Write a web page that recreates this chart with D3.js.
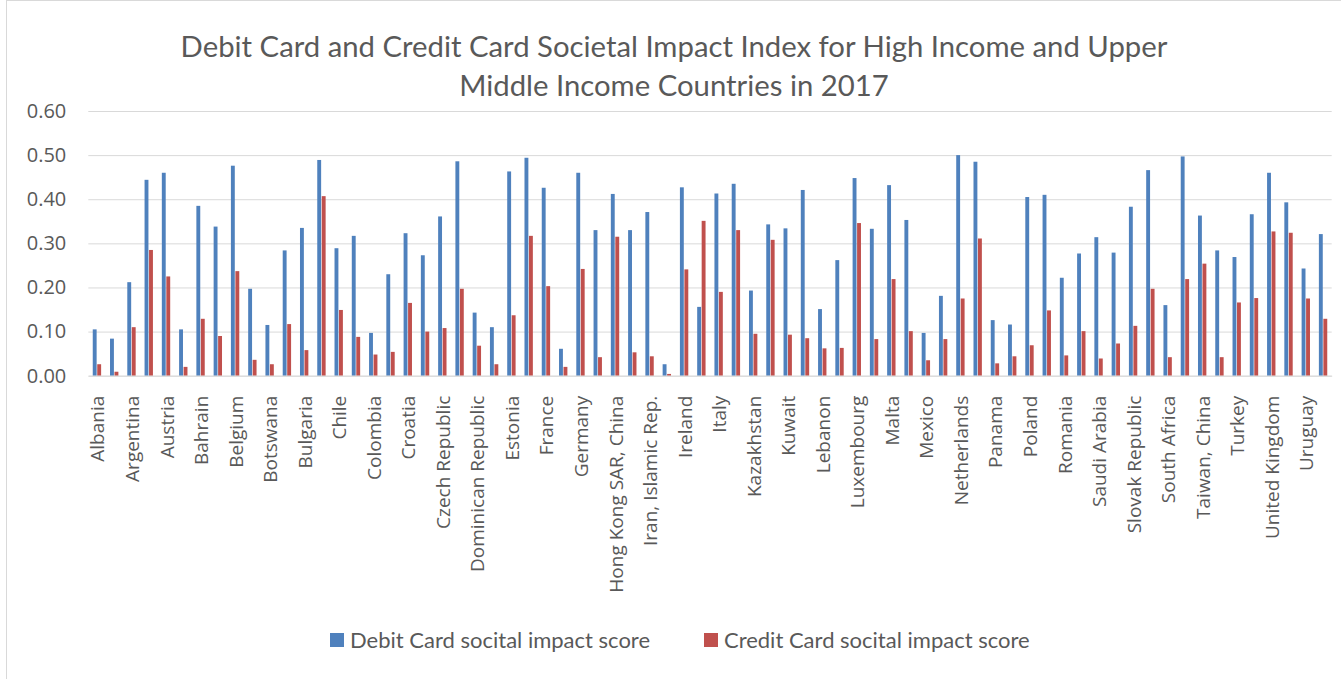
<!DOCTYPE html>
<html>
<head>
<meta charset="utf-8">
<script src="https://cdn.jsdelivr.net/npm/d3@7"></script>
<style>
  body { margin: 0; background: #fff; }
  svg { display: block; }
</style>
</head>
<body>
<svg id="chart" width="1341" height="679"></svg>
<script>
// categories (only every other one gets a label on the axis)
const countries = [
  "Albania", "Algeria", "Argentina", "Australia", "Austria", "Azerbaijan",
  "Bahrain", "Belarus", "Belgium", "Bosnia and Herzegovina", "Botswana", "Brazil",
  "Bulgaria", "Canada", "Chile", "China", "Colombia", "Costa Rica",
  "Croatia", "Cyprus", "Czech Republic", "Denmark", "Dominican Republic", "Ecuador",
  "Estonia", "Finland", "France", "Gabon", "Germany", "Greece",
  "Hong Kong SAR, China", "Hungary", "Iran, Islamic Rep.", "Iraq", "Ireland", "Israel",
  "Italy", "Japan", "Kazakhstan", "Korea, Rep.", "Kuwait", "Latvia",
  "Lebanon", "Lithuania", "Luxembourg", "Malaysia", "Malta", "Mauritius",
  "Mexico", "Montenegro", "Netherlands", "New Zealand", "Panama", "Peru",
  "Poland", "Portugal", "Romania", "Russian Federation", "Saudi Arabia", "Singapore",
  "Slovak Republic", "Slovenia", "South Africa", "Spain", "Taiwan, China", "Thailand",
  "Turkey", "United Arab Emirates", "United Kingdom", "United States", "Uruguay", "Venezuela, RB"
];

const debitScores = [
  0.105, 0.084, 0.212, 0.444, 0.460, 0.105,
  0.385, 0.338, 0.476, 0.197, 0.115, 0.284,
  0.335, 0.489, 0.289, 0.317, 0.097, 0.230,
  0.323, 0.273, 0.361, 0.486, 0.143, 0.110,
  0.463, 0.494, 0.426, 0.061, 0.460, 0.330,
  0.412, 0.330, 0.371, 0.026, 0.427, 0.156,
  0.413, 0.435, 0.193, 0.343, 0.334, 0.421,
  0.151, 0.262, 0.448, 0.333, 0.432, 0.353,
  0.097, 0.181, 0.500, 0.485, 0.126, 0.116,
  0.405, 0.410, 0.222, 0.277, 0.314, 0.279,
  0.383, 0.466, 0.160, 0.497, 0.363, 0.284,
  0.269, 0.366, 0.460, 0.393, 0.243, 0.321
];

const creditScores = [
  0.026, 0.009, 0.110, 0.285, 0.225, 0.020,
  0.129, 0.090, 0.237, 0.036, 0.026, 0.117,
  0.058, 0.407, 0.149, 0.088, 0.048, 0.054,
  0.165, 0.100, 0.108, 0.197, 0.068, 0.026,
  0.137, 0.317, 0.203, 0.020, 0.242, 0.042,
  0.315, 0.053, 0.044, 0.004, 0.241, 0.351,
  0.190, 0.330, 0.095, 0.308, 0.093, 0.085,
  0.062, 0.063, 0.346, 0.083, 0.219, 0.101,
  0.035, 0.083, 0.175, 0.311, 0.028, 0.044,
  0.069, 0.148, 0.046, 0.101, 0.039, 0.073,
  0.113, 0.197, 0.042, 0.219, 0.254, 0.042,
  0.166, 0.176, 0.327, 0.324, 0.175, 0.129
];

const seriesNames = ["Debit Card socital impact score", "Credit Card socital impact score"];
const seriesColors = ["#4f81bd", "#c0504d"];
const yTicks = [0, 0.1, 0.2, 0.3, 0.4, 0.5, 0.6];
const titleLines = [
  "Debit Card and Credit Card Societal Impact Index for High Income and Upper",
  "Middle Income Countries in 2017"
];

// build rows for the grouped bars
const rows = countries.map((c, i) => ({country: c, values: [debitScores[i], creditScores[i]]}));

const svg = d3.select("#chart");
const textColor = "#595959";
const gridColor = "#d9d9d9";

// chart frame
svg.append("rect")
  .attr("x", 6.5).attr("y", 0.5)
  .attr("width", 1345).attr("height", 700)
  .attr("fill", "#fff")
  .attr("stroke", gridColor);

const plot = {left: 88.3, right: 1331.7, top: 111, bottom: 375.7};

const x0 = d3.scaleBand()
  .domain(countries)
  .range([plot.left, plot.right]);

const barW = x0.bandwidth() / 3.85;
const x1 = d3.scaleBand()
  .domain([0, 1])
  .range([0, barW * 2]);

const y = d3.scaleLinear()
  .domain([0, 0.6])
  .range([plot.bottom, plot.top]);

// y axis + gridlines
const yAxis = svg.append("g")
  .attr("transform", `translate(${plot.left},0)`)
  .call(d3.axisLeft(y)
    .tickValues(yTicks)
    .tickFormat(d3.format(".2f"))
    .tickSize(-(plot.right - plot.left))
    .tickPadding(22));

yAxis.select(".domain").remove();
yAxis.selectAll("line").attr("stroke", gridColor).attr("stroke-width", 1);
yAxis.selectAll("text")
  .attr("fill", textColor)
  .attr("font-family", "'Open Sans', sans-serif")
  .attr("font-size", "20px");

// bars
const groups = svg.append("g")
  .selectAll("g.group")
  .data(rows)
  .join("g")
  .attr("class", "group")
  .attr("transform", d => `translate(${x0(d.country) + (x0.bandwidth() - barW * 2) / 2},0)`);

groups.selectAll("rect")
  .data(d => d.values)
  .join("rect")
  .attr("x", (d, i) => x1(i) + 0.3)
  .attr("width", x1.bandwidth() - 0.6)
  .attr("y", d => y(d))
  .attr("height", d => y(0) - y(d))
  .attr("fill", (d, i) => seriesColors[i]);

// x axis labels, every second country
const xAxis = svg.append("g")
  .attr("transform", `translate(0,${plot.bottom})`)
  .call(d3.axisBottom(x0)
    .tickSize(0)
    .tickFormat((d, i) => i % 2 === 0 ? d : ""));

xAxis.select(".domain").attr("stroke", gridColor);
xAxis.selectAll("text")
  .attr("transform", "rotate(-90)")
  .attr("text-anchor", "end")
  .attr("x", -20)
  .attr("y", 7.5)
  .attr("dy", 0)
  .attr("fill", textColor)
  .attr("font-family", "'Open Sans', sans-serif")
  .attr("font-size", "19px");

// title
svg.append("g")
  .selectAll("text")
  .data(titleLines)
  .join("text")
  .attr("x", 674)
  .attr("y", (d, i) => 57 + i * 39)
  .attr("text-anchor", "middle")
  .attr("fill", textColor)
  .attr("font-family", "Lato, sans-serif")
  .attr("font-size", "29.3px")
  .text(d => d);

// legend
const legendX = [330, 704];
const legend = svg.append("g")
  .selectAll("g")
  .data(seriesNames)
  .join("g")
  .attr("transform", (d, i) => `translate(${legendX[i]},633)`);

legend.append("rect")
  .attr("width", 14).attr("height", 14)
  .attr("fill", (d, i) => seriesColors[i]);

legend.append("text")
  .attr("x", 20)
  .attr("y", 14.5)
  .attr("fill", textColor)
  .attr("font-family", "Lato, sans-serif")
  .attr("font-size", "22px")
  .text(d => d);
</script>
</body>
</html>
